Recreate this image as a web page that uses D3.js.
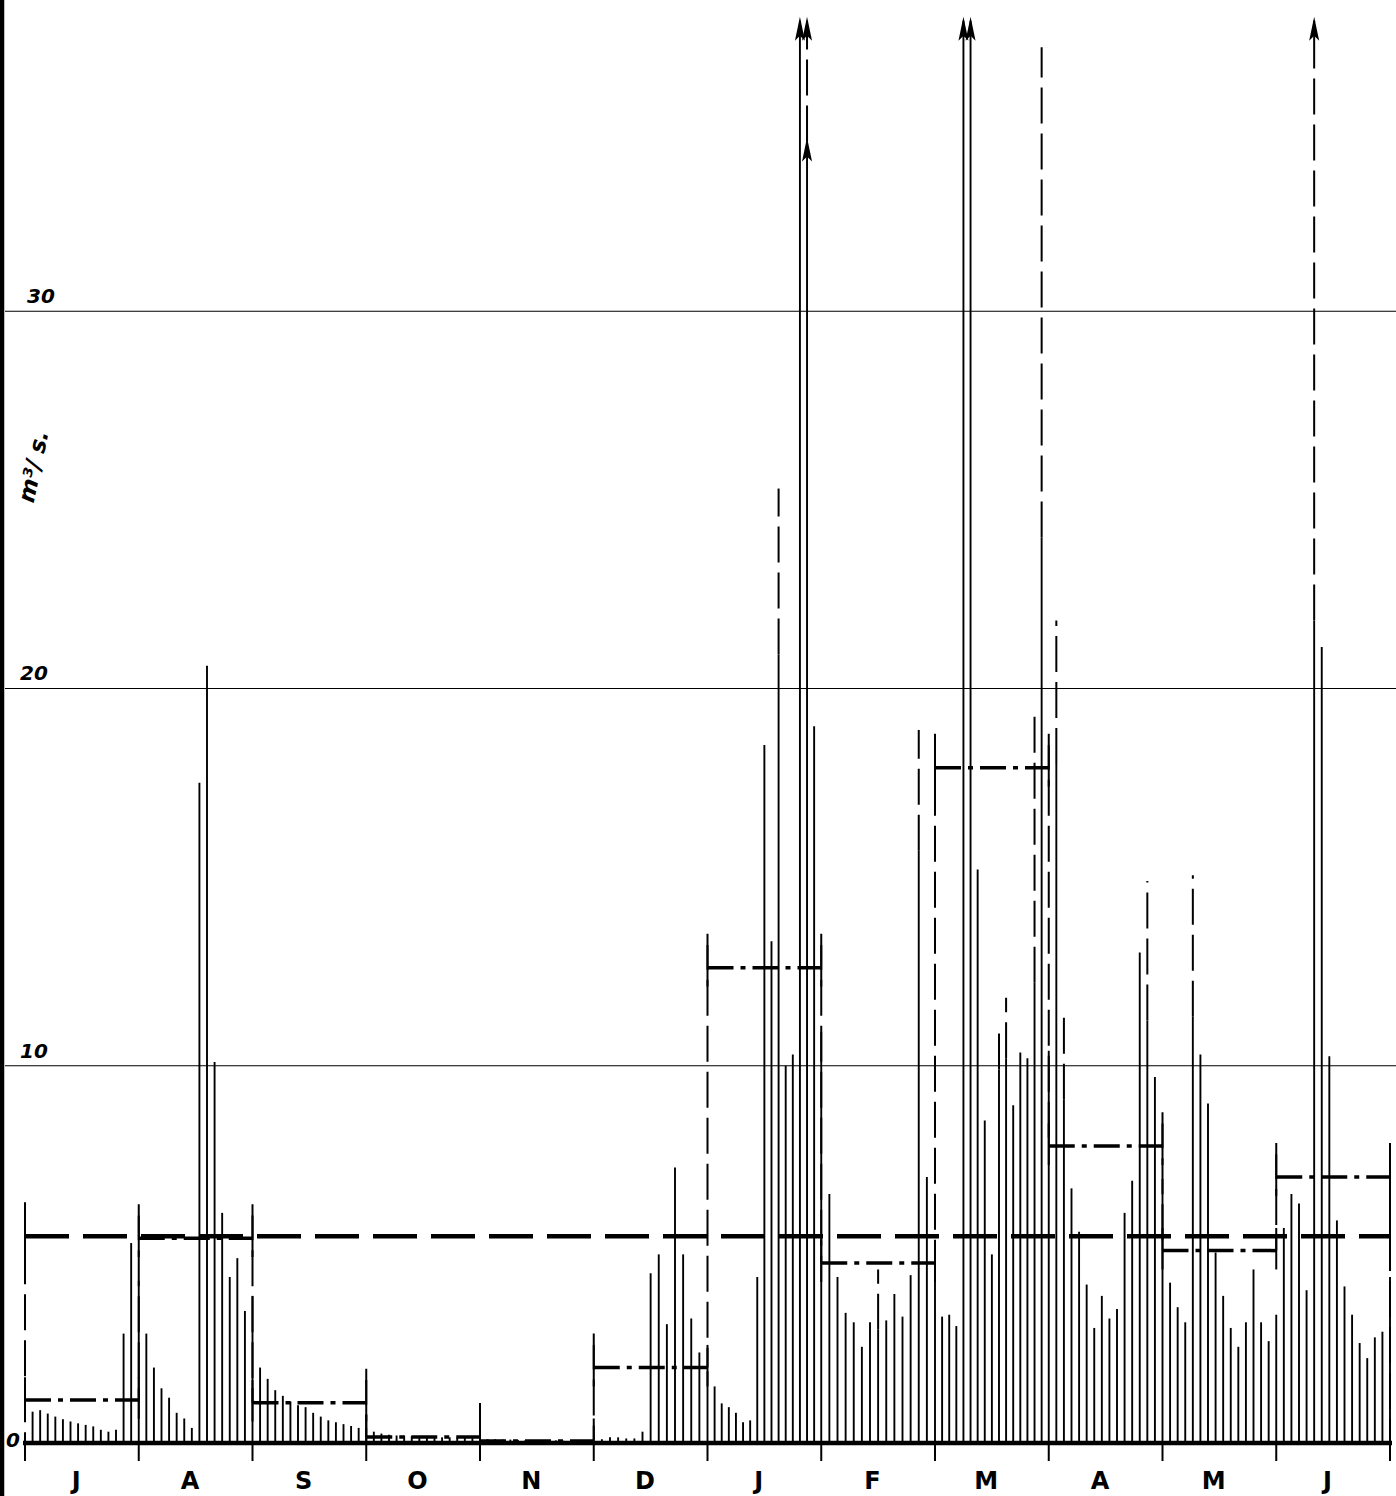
<!DOCTYPE html>
<html lang="fr">
<head>
  <meta charset="UTF-8">
  <script src="https://cdnjs.cloudflare.com/ajax/libs/d3/7.8.5/d3.min.js"></script>
  <style>
    body { margin: 0; background: #fff; }
    svg { display: block; }
    .tick-label { font-family: "DejaVu Sans", sans-serif; font-style: italic; font-weight: bold; font-size: 20px; }
    .month { font-family: "DejaVu Sans", sans-serif; font-weight: bold; font-size: 24px; }
  </style>
  <title></title>
</head>
<body>
  <script>
    const w = 1396;
    const h = 1496;

    // month labels, July -> June
    const months = ["J", "A", "S", "O", "N", "D", "J", "F", "M", "A", "M", "J"];

    // discharge read every second day (m3/s)
    const jul = [0.83, 0.87, 0.78, 0.7, 0.63, 0.57, 0.52, 0.48, 0.44, 0.35, 0.3, 0.35, 2.9, 5.3, 4.3];
    const aug = [2.9, 2.0, 1.45, 1.2, 0.8, 0.65, 0.4, 17.5, 20.6, 10.1, 6.1, 4.4, 4.9, 3.5, 3.9];
    const sep = [2.0, 1.7, 1.4, 1.25, 1.1, 1.0, 0.95, 0.8, 0.7, 0.6, 0.55, 0.5, 0.45, 0.4, 0.4];
    const oct = [0.3, 0.25, 0.22, 0.2, 0.2, 0.18, 0.18, 0.16, 0.16, 0.15, 0.15, 0.14, 0.14, 0.13, 0.12];
    const nov = [0.1, 0.1, 0.09, 0.09, 0.08, 0.08, 0.08, 0.07, 0.07, 0.07, 0.06, 0.06, 0.06, 0.06, 0.05];
    const dec = [0.1, 0.15, 0.15, 0.12, 0.12, 0.3, 4.5, 5.0, 3.15, 7.3, 5.0, 3.3, 2.4, 1.9];
    const jan = [1.5, 1.05, 0.95, 0.8, 0.55, 0.6, 4.4, 18.5, 13.3, 20.9, 10.0, 10.3, 44, 34.5, 19.0, 10.9];
    const feb = [6.6, 4.4, 3.45, 3.2, 2.55, 3.2, 3.0, 3.25, 3.95, 3.35, 4.45, 15.7, 7.05, 4.4];
    const mar = [3.35, 3.4, 3.1, 60, 80, 15.2, 8.55, 5.0, 9.9, 10.2, 8.95, 10.35, 10.2, 12.2, 24.0, 10.4];
    const apr = [18.0, 9.1, 6.75, 5.6, 4.2, 3.05, 3.9, 3.3, 3.55, 6.1, 6.95, 13.0, 11.2, 9.7, 7.0];
    const may = [4.25, 3.6, 3.2, 11.3, 10.3, 9.0, 5.05, 3.9, 3.05, 2.55, 3.2, 4.6, 3.2, 2.7, 3.4];
    const jun = [5.7, 6.6, 6.35, 4.05, 21.8, 21.1, 10.25, 5.9, 4.15, 3.4, 2.65, 2.25, 2.8, 2.95, 4.4];
    const daily = [jul, aug, sep, oct, nov, dec, jan, feb, mar, apr, may, jun];

    // instantaneous peaks (dashed): month index, reading index, value
    const peakMonth = [6, 6, 7, 7, 8, 8, 8, 8, 9, 9, 9, 10, 11];
    const peakIndex = [9, 13, 6, 11, 8, 9, 13, 14, 0, 1, 12, 3, 4];
    const peakValue = [25.3, 45, 4.6, 18.9, 11.1, 11.8, 19.4, 37.0, 21.8, 11.3, 14.9, 15.05, 45];

    // readings marked with an arrow on the solid line
    const arrowMonth = [6];
    const arrowIndex = [13];

    const monthlyMeans = [1.14, 5.43, 1.07, 0.16, 0.05, 2.0, 12.6, 4.77, 17.9, 7.87, 5.1, 7.05];
    const annualMean = 5.48;

    const yTicks = [0, 10, 20, 30];
    const cap = 37.7;

    const svg = d3.select("body")
      .append("svg")
      .attr("width", w)
      .attr("height", h);

    const x = d3.scaleLinear().domain([0, 12]).range([25, 1390]);
    const y = d3.scaleLinear().domain([0, 38.25]).range([1443, 0]);

    const bars = daily.flatMap((vals, m) => vals.map((v, k) => ({
      m: m, k: k, v: v, pos: m + (k + 1) / vals.length
    })));
    const barAt = (m, k) => bars.find(b => b.m === m && b.k === k);

    // left frame
    svg.append("line")
      .attr("x1", 2).attr("x2", 2)
      .attr("y1", 0).attr("y2", h)
      .attr("stroke", "#000").attr("stroke-width", 4.5);

    // gridlines
    svg.selectAll(".grid")
      .data(yTicks.filter(d => d > 0))
      .enter()
      .append("line")
      .attr("class", "grid")
      .attr("x1", 5).attr("x2", w)
      .attr("y1", d => y(d)).attr("y2", d => y(d))
      .attr("stroke", "#000").attr("stroke-width", 1.2);

    svg.selectAll(".tick-label")
      .data(yTicks)
      .enter()
      .append("text")
      .attr("class", "tick-label")
      .attr("x", d => d === 0 ? 6 : (d === 30 ? 27 : 20))
      .attr("y", d => d === 0 ? y(d) + 4 : y(d) - 8)
      .text(d => d);

    svg.append("text")
      .attr("class", "tick-label")
      .attr("transform", "translate(41,468) rotate(-78)")
      .attr("text-anchor", "middle")
      .style("font-size", "23px")
      .text("m³/ s.");

    // daily bars
    svg.selectAll(".bar")
      .data(bars)
      .enter()
      .append("line")
      .attr("class", "bar")
      .attr("x1", d => x(d.pos)).attr("x2", d => x(d.pos))
      .attr("y1", y(0))
      .attr("y2", d => y(Math.min(d.v, cap)))
      .attr("stroke", "#000").attr("stroke-width", 1.9);

    // peaks
    const peaks = peakValue.map((v, i) => {
      const b = barAt(peakMonth[i], peakIndex[i]);
      return { pos: b.pos, from: Math.min(b.v, cap), to: Math.min(v, cap), over: v > cap };
    });

    svg.selectAll(".peak")
      .data(peaks)
      .enter()
      .append("line")
      .attr("class", "peak")
      .attr("x1", d => x(d.pos)).attr("x2", d => x(d.pos))
      .attr("y1", d => y(d.from))
      .attr("y2", d => y(d.to))
      .attr("stroke", "#000").attr("stroke-width", 2)
      .attr("stroke-dasharray", "36,10");

    // arrows for off-scale values
    const arrows = bars.filter(b => b.v > cap).map(b => ({ pos: b.pos, v: cap }))
      .concat(peaks.filter(p => p.over).map(p => ({ pos: p.pos, v: cap })))
      .concat(arrowMonth.map((m, i) => {
        const b = barAt(m, arrowIndex[i]);
        return { pos: b.pos, v: b.v };
      }));

    svg.selectAll(".arrow")
      .data(arrows)
      .enter()
      .append("path")
      .attr("class", "arrow")
      .attr("d", d => {
        const px = x(d.pos), py = y(d.v);
        return "M" + px + "," + (py - 4) + "L" + (px + 5) + "," + (py + 20) +
          "L" + px + "," + (py + 15) + "L" + (px - 5) + "," + (py + 20) + "Z";
      })
      .attr("fill", "#000");

    // step connectors between monthly means
    const ext = 0.9;
    const connectors = d3.range(13).map(i => {
      let lo, hi;
      if (i === 0) { lo = 0; hi = Math.max(annualMean, monthlyMeans[0]) + ext; }
      else if (i === 12) { lo = 0; hi = Math.max(annualMean, monthlyMeans[11]) + ext; }
      else {
        lo = Math.min(monthlyMeans[i - 1], monthlyMeans[i]);
        hi = Math.max(monthlyMeans[i - 1], monthlyMeans[i]) + ext;
      }
      return { i: i, lo: lo, hi: hi };
    });

    svg.selectAll(".conn")
      .data(connectors)
      .enter()
      .append("line")
      .attr("class", "conn")
      .attr("x1", d => x(d.i)).attr("x2", d => x(d.i))
      .attr("y1", d => y(d.hi))
      .attr("y2", d => y(d.lo))
      .attr("stroke", "#000").attr("stroke-width", 2)
      .attr("stroke-dasharray", "36,10");

    // monthly means (dash-dot)
    svg.selectAll(".mean")
      .data(monthlyMeans)
      .enter()
      .append("line")
      .attr("class", "mean")
      .attr("x1", (d, i) => x(i)).attr("x2", (d, i) => x(i + 1))
      .attr("y1", d => y(d)).attr("y2", d => y(d))
      .attr("stroke", "#000").attr("stroke-width", 3.5)
      .attr("stroke-dasharray", "26,7,5,7");

    const meanTicks = monthlyMeans.flatMap((d, i) => [{ p: i, v: d }, { p: i + 1, v: d }]);
    svg.selectAll(".mtick")
      .data(meanTicks)
      .enter()
      .append("line")
      .attr("class", "mtick")
      .attr("x1", d => x(d.p)).attr("x2", d => x(d.p))
      .attr("y1", d => y(d.v + 0.6))
      .attr("y2", d => y(Math.max(d.v - 0.5, 0)))
      .attr("stroke", "#000").attr("stroke-width", 2);

    // annual mean
    svg.append("line")
      .attr("x1", x(0)).attr("x2", x(12))
      .attr("y1", y(annualMean)).attr("y2", y(annualMean))
      .attr("stroke", "#000").attr("stroke-width", 4.5)
      .attr("stroke-dasharray", "44,14");

    svg.selectAll(".atick")
      .data([0, 12])
      .enter()
      .append("line")
      .attr("class", "atick")
      .attr("x1", d => x(d)).attr("x2", d => x(d))
      .attr("y1", y(annualMean + 0.7)).attr("y2", y(annualMean - 0.7))
      .attr("stroke", "#000").attr("stroke-width", 2);

    // baseline and month ticks
    svg.append("line")
      .attr("x1", x(0) - 2).attr("x2", x(12) + 2)
      .attr("y1", y(0)).attr("y2", y(0))
      .attr("stroke", "#000").attr("stroke-width", 4.5);

    svg.selectAll(".xtick")
      .data(d3.range(13))
      .enter()
      .append("line")
      .attr("class", "xtick")
      .attr("x1", d => x(d)).attr("x2", d => x(d))
      .attr("y1", y(0)).attr("y2", y(0) + 18)
      .attr("stroke", "#000").attr("stroke-width", 2);

    svg.selectAll(".month")
      .data(months)
      .enter()
      .append("text")
      .attr("class", "month")
      .attr("x", (d, i) => x(i + 0.45))
      .attr("y", 1489)
      .attr("text-anchor", "middle")
      .text(d => d);
  </script>
</body>
</html>
